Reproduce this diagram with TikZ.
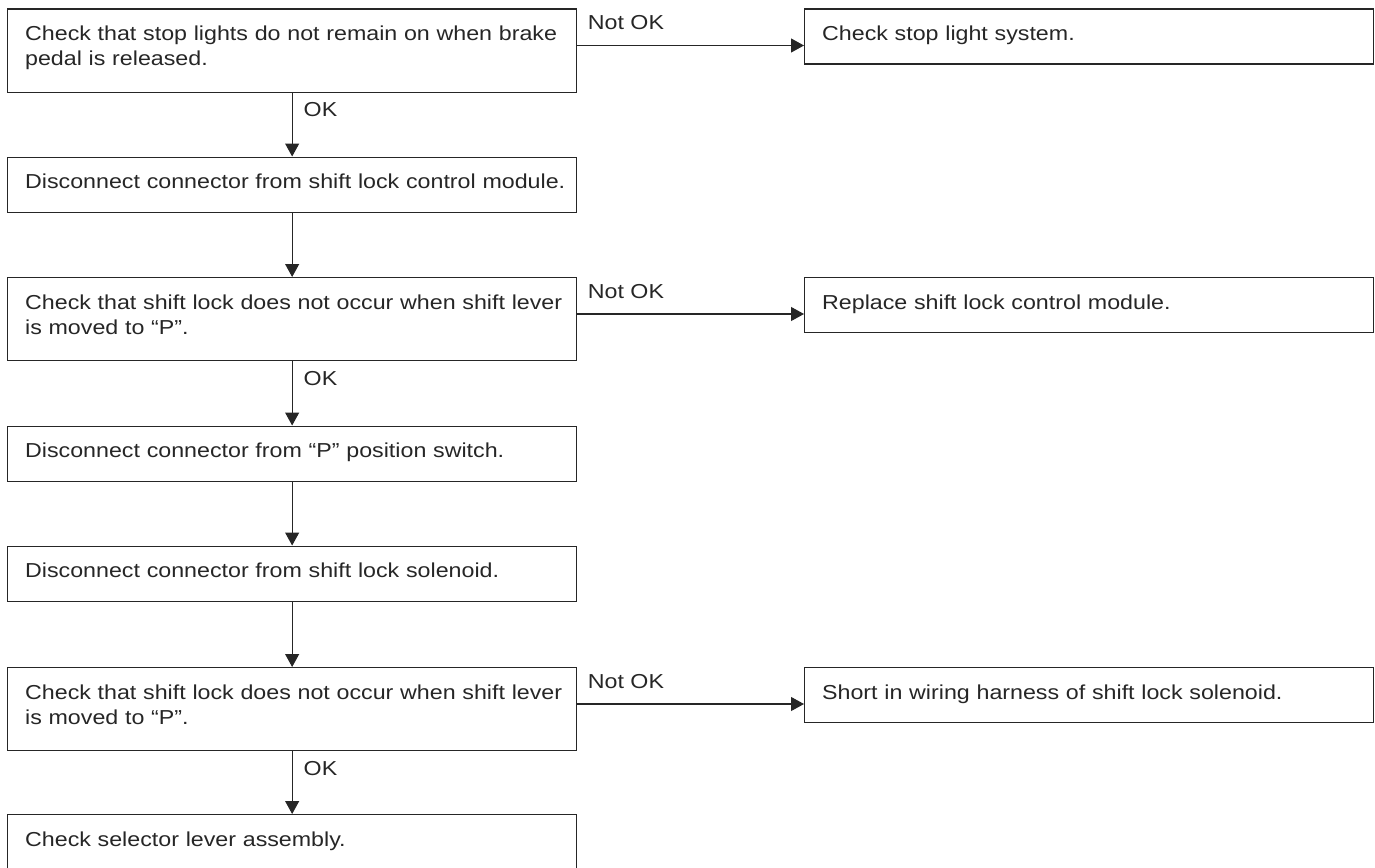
\documentclass[tikz,border=0pt]{standalone}
\usepackage{fontspec}
\setmainfont{Liberation Sans}[FakeStretch=1.15]
\usetikzlibrary{arrows.meta}
\definecolor{ink}{HTML}{262626}

\begin{document}
\begin{tikzpicture}[x=1pt, y=-1pt, >={Triangle[length=13pt,width=14pt]},
    every node/.style={font=\fontsize{20.2pt}{25pt}\selectfont, text=ink},
    box/.style={draw=ink, line width=1.3pt, anchor=north west, inner xsep=6.5pt, inner ysep=0pt,
        text width=556pt, align=left, text height=31.5pt,
        execute at begin node={\leftskip=11pt\hyphenpenalty=10000}},
    one/.style={box, text depth=23.5pt},
    two/.style={box, text depth=51.5pt},
    lbl/.style={inner sep=0pt, anchor=base west},
    flow/.style={->, draw=ink, line width=1.1pt}]
    \useasboundingbox (0,0) rectangle (1375,867);

    % Steps on the left
    \node[two] (c1) at (7, 8.5) {Check that stop lights do not remain on when brake\\pedal is released.};
    \node[one] (c2) at (7, 156.5) {Disconnect connector from shift lock control module.};
    \node[two] (c3) at (7, 277) {Check that shift lock does not occur when shift lever\\is moved to “P”.};
    \node[one] (c4) at (7, 425.5) {Disconnect connector from “P” position switch.};
    \node[one] (c5) at (7, 545.5) {Disconnect connector from shift lock solenoid.};
    \node[two] (c6) at (7, 667) {Check that shift lock does not occur when shift lever\\is moved to “P”.};
    \node[one] (c7) at (7, 814) {Check selector lever assembly.};

    % Results on the right
    \node[one] (r1) at (804, 8.5) {Check stop light system.};
    \node[one] (r3) at (804, 277) {Replace shift lock control module.};
    \node[one] (r6) at (804, 667) {Short in wiring harness of shift lock solenoid.};

    % Points where the Not OK lines leave the boxes
    \coordinate (n1) at ([yshift=-37pt]c1.north east);
    \coordinate (n3) at ([yshift=-37pt]c3.north east);
    \coordinate (n6) at ([yshift=-37pt]c6.north east);

    % Edges down the left
    \draw[flow] (c1.south) -- (c2.north) node[lbl, at start, xshift=11pt, yshift=-24pt] {OK};
    \draw[flow] (c2.south) -- (c3.north);
    \draw[flow] (c3.south) -- (c4.north) node[lbl, at start, xshift=11pt, yshift=-24pt] {OK};
    \draw[flow] (c4.south) -- (c5.north);
    \draw[flow] (c5.south) -- (c6.north);
    \draw[flow] (c6.south) -- (c7.north) node[lbl, at start, xshift=11pt, yshift=-24pt] {OK};

    % Edges to the right
    \draw[flow] (n1) -- (n1 -| r1.west) node[lbl, at start, xshift=10pt, yshift=15.5pt] {Not OK};
    \draw[flow] (n3) -- (n3 -| r3.west) node[lbl, at start, xshift=10pt, yshift=15.5pt] {Not OK};
    \draw[flow] (n6) -- (n6 -| r6.west) node[lbl, at start, xshift=10pt, yshift=15.5pt] {Not OK};
\end{tikzpicture}
\end{document}
